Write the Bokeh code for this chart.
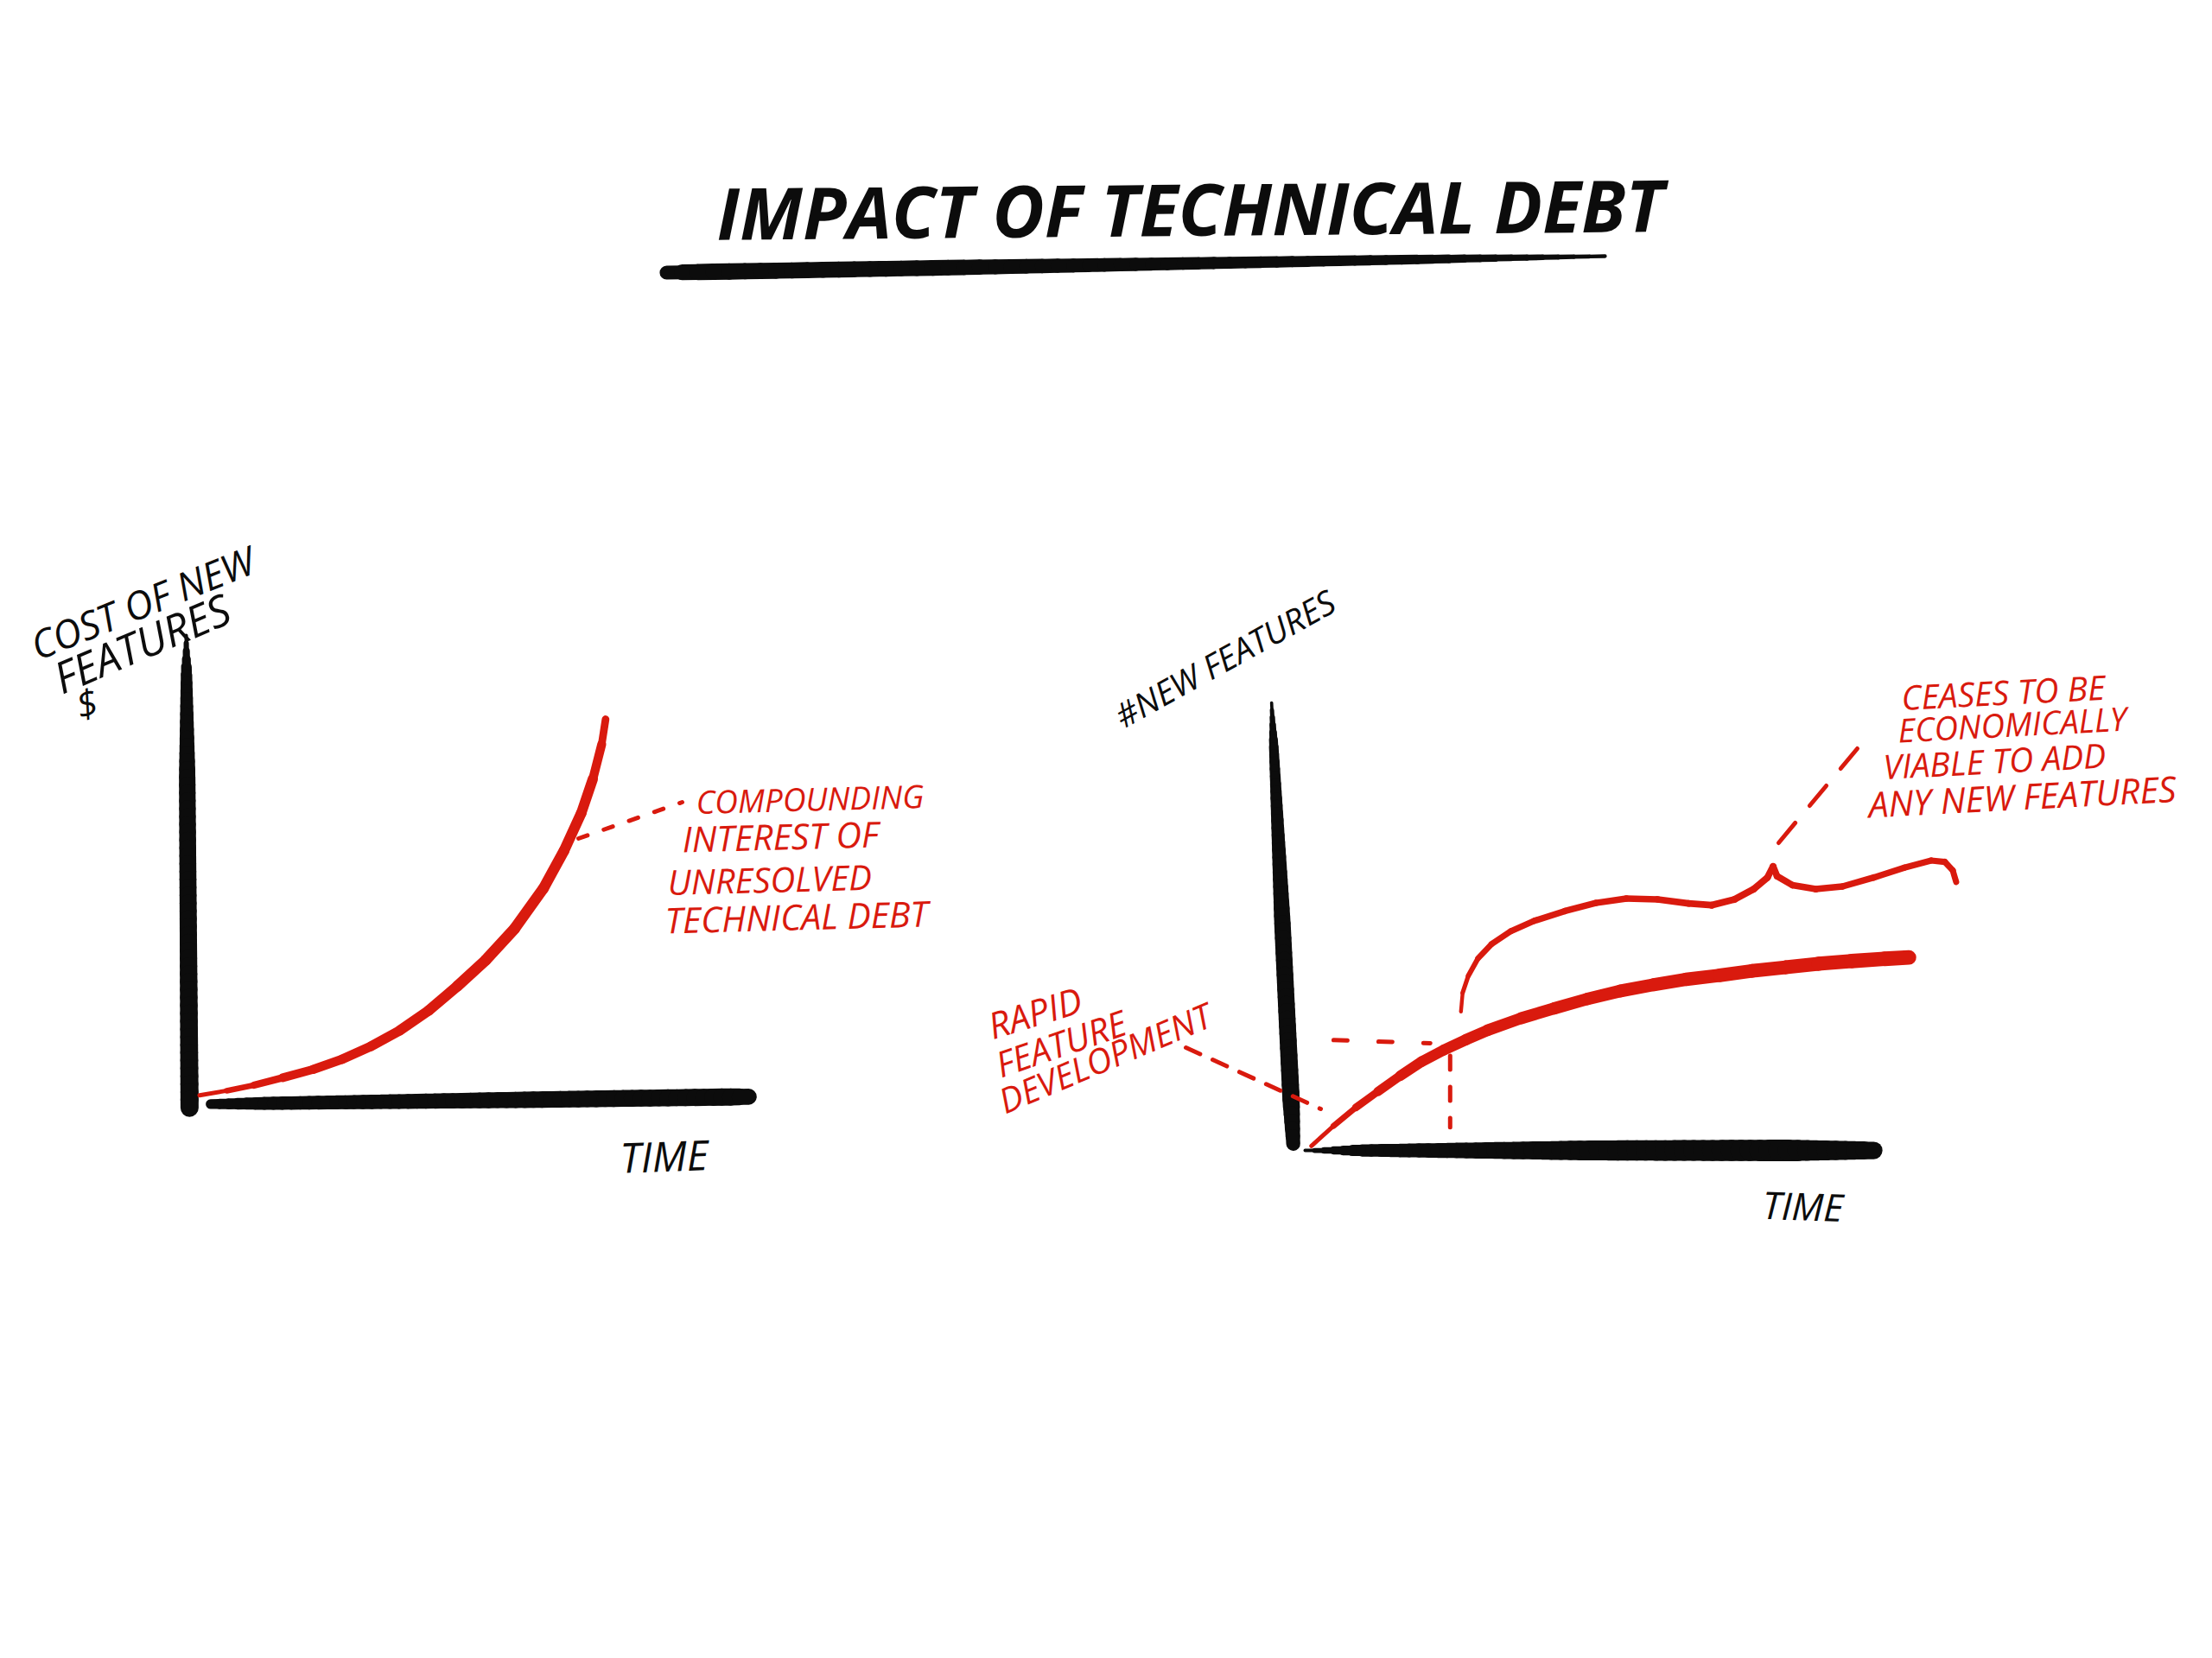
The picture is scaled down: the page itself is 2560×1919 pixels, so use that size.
import numpy as np
from bokeh.plotting import figure
from bokeh.models import Range1d, ColumnDataSource
from bokeh.core.properties import value
from bokeh.embed import file_html
from bokeh.resources import INLINE

# ---------------- data ----------------
# Left chart: cost of new features over time
time_cost = [0.10, 0.59, 1.08, 1.60, 2.15, 2.67, 3.19, 3.71, 4.23, 4.75, 5.26, 5.78,
             6.30, 6.67, 6.98, 7.19, 7.35, 7.42]
cost_new_features = [0.07, 0.17, 0.29, 0.45, 0.63, 0.85, 1.13, 1.47, 1.90, 2.43, 2.99,
                     3.67, 4.54, 5.35, 6.16, 6.90, 7.65, 8.19]

# Right chart: number of new features over time
time_feat = [0.11, 0.50, 0.89, 1.28, 1.67, 2.05, 2.44, 2.83, 3.21, 3.80, 4.38, 4.96,
             5.55, 6.13, 6.70, 7.29, 7.86, 8.45, 9.03, 9.61, 10.19, 10.62]
new_features = [0.08, 0.53, 0.94, 1.30, 1.65, 1.97, 2.23, 2.46, 2.67, 2.94, 3.16, 3.37,
                3.55, 3.69, 3.81, 3.90, 4.00, 4.08, 4.16, 4.22, 4.27, 4.30]

# Right chart: hand-drawn brace above the curve
time_brace = [2.74, 2.77, 2.87, 3.04, 3.28, 3.62, 4.03, 4.57, 5.11, 5.65, 6.20, 6.74,
              7.15, 7.55, 7.89, 8.13, 8.23, 8.30, 8.57, 8.98, 9.45, 10.00, 10.54, 11.01,
              11.25, 11.39, 11.45]
level_brace = [3.09, 3.51, 3.89, 4.28, 4.60, 4.89, 5.12, 5.34, 5.52, 5.62, 5.60, 5.51,
               5.47, 5.60, 5.83, 6.09, 6.34, 6.12, 5.92, 5.83, 5.89, 6.09, 6.31, 6.47,
               6.44, 6.25, 5.99]

# Right chart: "rapid feature development" marker
marker_time = [2.55]
marker_level = [2.45]

# Texts
title_text = "IMPACT OF TECHNICAL DEBT"
left_ylabel = ["COST OF NEW", "FEATURES", "$"]
left_note = ["COMPOUNDING", "INTEREST OF", "UNRESOLVED", "TECHNICAL DEBT"]
right_ylabel = ["#NEW FEATURES"]
rapid_note = ["RAPID", "FEATURE", "DEVELOPMENT"]
cease_note = ["CEASES TO BE", "ECONOMICALLY", "VIABLE TO ADD", "ANY NEW FEATURES"]
xlabel = "TIME"

# ---------------- styling / layout ----------------
W, H = 2544, 1903
INK = "#0c0c0c"
RED = "#d91a0e"
FONT = value("Open Sans")

p = figure(width=W, height=H, output_backend="svg", toolbar_location=None,
           x_range=Range1d(8, 8 + W), y_range=Range1d(8 + H, 8),
           min_border=0, tools="")
p.axis.visible = False
p.grid.visible = False
p.outline_line_color = None
p.background_fill_color = "white"
p.border_fill_color = "white"


def add_chart_ranges(name, ox, oy, ux, uy):
    # chart origin (pixel) and pixels per data unit -> library ranges
    p.extra_x_ranges[name + "x"] = Range1d((8 - ox) / ux, (8 + W - ox) / ux)
    p.extra_y_ranges[name + "y"] = Range1d((oy - (8 + H)) / uy, (oy - 8) / uy)


add_chart_ranges("c1", 232, 1279, 64.2, 53.6)
add_chart_ranges("c2", 1518, 1338, 65.8, 51.7)


def tapered(x0, y0, x1, y1, prof_s, prof_w, color, chart=None, n=60):
    s = np.linspace(0, 1, n + 1)
    xs = x0 + (x1 - x0) * s
    ys = y0 + (y1 - y0) * s
    mid = (s[:-1] + s[1:]) / 2
    w = np.interp(mid, prof_s, prof_w)
    src = ColumnDataSource(dict(x0=xs[:-1], y0=ys[:-1], x1=xs[1:], y1=ys[1:], w=w))
    kw = {}
    if chart:
        kw = dict(x_range_name=chart + "x", y_range_name=chart + "y")
    p.segment(x0="x0", y0="y0", x1="x1", y1="y1", line_width="w", source=src,
              line_color=color, line_cap="round", **kw)


def curve(xs, ys, prof_s, prof_w, color, chart):
    xs = np.asarray(xs, float)
    ys = np.asarray(ys, float)
    n = len(xs) - 1
    frac = (np.arange(n) + 0.5) / n
    w = np.interp(frac, prof_s, prof_w)
    src = ColumnDataSource(dict(x0=xs[:-1], y0=ys[:-1], x1=xs[1:], y1=ys[1:], w=w))
    p.segment(x0="x0", y0="y0", x1="x1", y1="y1", line_width="w", source=src,
              line_color=color, line_cap="round", x_range_name=chart + "x",
              y_range_name=chart + "y")


def label(x, y, txt, size, color, angle=0.0, align="left", style="italic"):
    p.text(x=[x], y=[y], text=[txt], angle=np.deg2rad(angle), text_align=align,
           text_baseline="middle", text_font=FONT, text_font_style=style,
           text_font_size=f"{size}px", text_color=color)


def dashed(x0, y0, x1, y1, dash, width, color, chart=None):
    kw = {}
    if chart:
        kw = dict(x_range_name=chart + "x", y_range_name=chart + "y")
    p.line([x0, x1], [y0, y1], line_dash=dash, line_width=width, line_color=color,
           line_cap="round", **kw)


# ---------------- title ----------------
label(1385, 248, title_text, 83, INK, angle=0.5, align="center", style="bold italic")
tapered(779, 323, 1865, 304, [0, 0.03, 0.3, 0.8, 1.0], [15, 19, 18, 11, 4], INK)

# ---------------- left chart ----------------
tapered(-0.14, 10.0, -0.08, -0.2, [0, 0.08, 0.3, 1.0], [3, 13, 19, 21], INK, "c1")
tapered(0.3, -0.12, 10.0, 0.04, [0, 0.1, 0.6, 0.97, 1.0], [11, 15, 19, 20, 18], INK, "c1")
curve(time_cost, cost_new_features, [0, 0.2, 0.6, 0.85, 1.0], [4, 10, 13, 12, 8], RED, "c1")

dashed(677, 978, 797, 936, "11 20", 5, RED)
note_pos = [(813, 935, 37), (797, 978, 41), (780, 1028, 40), (777, 1072, 41)]
for (x, y, s), t in zip(note_pos, left_note):
    label(x, y, t, s, RED, angle=1.5)

label(45, 756, left_ylabel[0], 45, INK, angle=22)
label(72, 794, left_ylabel[1], 50, INK, angle=23)
label(96, 824, left_ylabel[2], 44, INK, angle=15)
label(776, 1345, xlabel, 48, INK, angle=2, align="center")

# ---------------- right chart ----------------
tapered(-0.59, 10.0, -0.21, 0.13, [0, 0.1, 0.5, 0.9, 1.0], [3, 11, 19, 20, 16], INK, "c2")
tapered(0.0, -0.02, 10.0, -0.02, [0, 0.1, 0.5, 0.85, 1.0], [3, 14, 23, 25, 20], INK, "c2")
curve(time_feat, new_features, [0, 0.2, 0.6, 1.0], [4, 12, 15, 17], RED, "c2")
curve(time_brace, level_brace, [0, 0.15, 0.5, 1.0], [4, 7, 8, 7], RED, "c2")

# dashed guides to the "rapid development" point
dashed(0.5, marker_level[0], marker_time[0] - 0.35, marker_level[0] - 0.07, "16 36", 5, RED, "c2")
dashed(marker_time[0], marker_level[0] - 0.35, marker_time[0], 0.5, "16 20", 5, RED, "c2")
dashed(1380, 1220, 1536, 1291, "18 16", 5, RED)
dashed(2066, 983, 2167, 862, "30 26", 5, RED)

label(1300, 838, right_ylabel[0], 39, INK, angle=29)
rapid_pos = [(1152, 1195, 17, 42), (1161, 1240, 19, 41), (1165, 1283, 23, 40)]
for (x, y, a, s), t in zip(rapid_pos, rapid_note):
    label(x, y, t, s, RED, angle=a)

cease_pos = [(2208, 814, 39), (2204, 852, 38), (2187, 894, 39), (2170, 938, 41)]
for (x, y, s), t in zip(cease_pos, cease_note):
    label(x, y, t, s, RED, angle=3)

label(2094, 1403, xlabel, 44, INK, angle=-2, align="center")

open("out.html", "w").write(file_html(p, INLINE))
